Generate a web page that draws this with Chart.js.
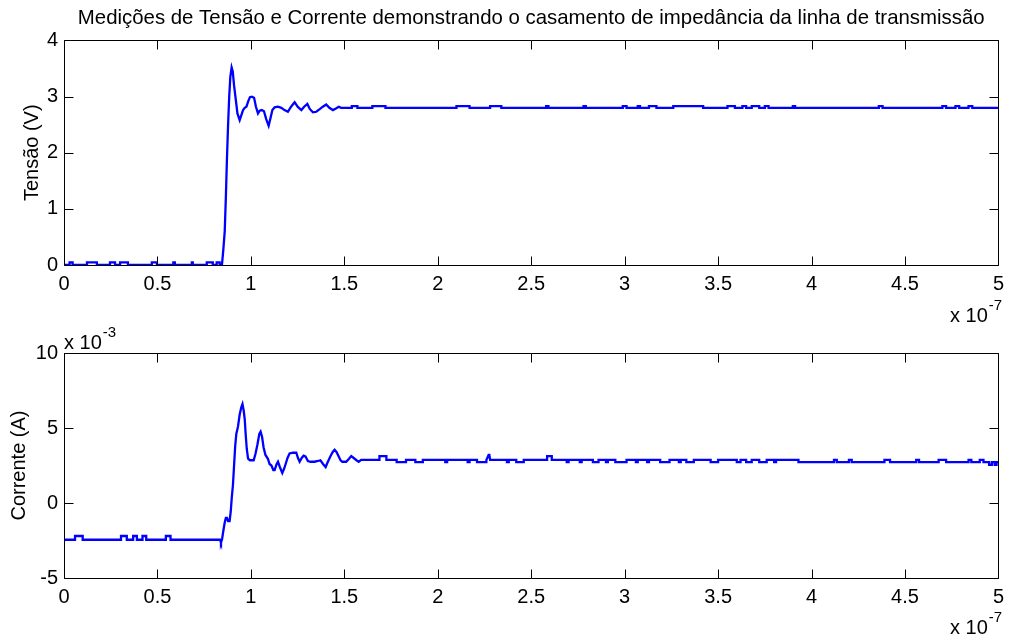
<!DOCTYPE html>
<html>
<head>
<meta charset="utf-8">
<script src="https://cdn.jsdelivr.net/npm/chart.js@4.4.1/dist/chart.umd.min.js"></script>
<style>
  html, body { margin: 0; padding: 0; background: #ffffff; }
  #fig { position: relative; width: 1011px; height: 639px; background: #ffffff; }
  #fig canvas { position: absolute; left: 0; }
  #cTop { top: 0; }
  #cBot { top: 320px; }
</style>
</head>
<body>
<div id="fig">
  <canvas id="cTop" width="1011" height="332"></canvas>
  <canvas id="cBot" width="1011" height="319"></canvas>
</div>
<script>
// Time axis in units of 1e-7 s, voltage in V
const tVolt = [
  0, 0.030, 0.030, 0.046, 0.046, 0.123, 0.123, 0.176, 0.176, 0.246, 0.246, 0.273, 0.273,
  0.300, 0.300, 0.342, 0.342, 0.470, 0.470, 0.497, 0.497, 0.585, 0.585, 0.593, 0.593,
  0.684, 0.684, 0.689, 0.689, 0.764, 0.764, 0.796, 0.796, 0.817, 0.817, 0.833, 0.833, 0.845,
  0.852, 0.860, 0.866, 0.872, 0.878, 0.884, 0.890, 0.897, 0.903, 0.910, 0.919, 0.928, 0.940,
  0.950, 0.958, 0.967, 0.976, 0.986, 0.995, 1.005, 1.017, 1.027, 1.038, 1.047, 1.058, 1.070,
  1.082, 1.095, 1.105, 1.115, 1.127, 1.145, 1.163, 1.180, 1.198, 1.215, 1.234, 1.250, 1.270,
  1.285, 1.302, 1.315, 1.332, 1.350, 1.370, 1.385, 1.403, 1.420, 1.439, 1.455, 1.470, 1.483,
  1.500, 1.540, 1.540, 1.570, 1.570, 1.650, 1.650, 1.720, 1.720, 2.100, 2.100, 2.170, 2.170,
  2.280, 2.280, 2.340, 2.340, 2.580, 2.580, 2.592, 2.592, 2.780, 2.780, 2.792, 2.792,
  2.990, 2.990, 3.010, 3.010, 3.070, 3.070, 3.082, 3.082, 3.130, 3.130, 3.170, 3.170,
  3.260, 3.260, 3.420, 3.420, 3.550, 3.550, 3.590, 3.590, 3.630, 3.630, 3.650, 3.650,
  3.680, 3.680, 3.720, 3.720, 3.750, 3.750, 3.770, 3.770, 3.900, 3.900, 3.912, 3.912,
  4.360, 4.360, 4.380, 4.380, 4.700, 4.700, 4.720, 4.720, 4.770, 4.770, 4.790, 4.790,
  4.840, 4.840, 4.860, 4.860, 5.000
];
const vVolt = [
  0, 0, 0.045, 0.045, 0, 0, 0.045, 0.045, 0, 0, 0.045, 0.045, 0,
  0, 0.045, 0.045, 0, 0, 0.045, 0.045, 0, 0, 0.045, 0.045, 0,
  0, 0.045, 0.045, 0, 0, 0.045, 0.045, 0, 0, 0.045, 0.045, 0, 0,
  0.25, 0.60, 1.20, 1.90, 2.50, 3.00, 3.35, 3.52, 3.45, 3.20, 2.95, 2.70, 2.58,
  2.68, 2.76, 2.80, 2.82, 2.92, 2.99, 3.00, 2.98, 2.82, 2.70, 2.75, 2.76, 2.74,
  2.60, 2.48, 2.62, 2.76, 2.81, 2.82, 2.80, 2.76, 2.73, 2.82, 2.90, 2.82, 2.76,
  2.82, 2.87, 2.78, 2.72, 2.73, 2.78, 2.82, 2.86, 2.80, 2.76, 2.79, 2.82, 2.80,
  2.80, 2.80, 2.83, 2.83, 2.80, 2.80, 2.83, 2.83, 2.80, 2.80, 2.83, 2.83, 2.80,
  2.80, 2.83, 2.83, 2.80, 2.80, 2.83, 2.83, 2.80, 2.80, 2.83, 2.83, 2.80,
  2.80, 2.83, 2.83, 2.80, 2.80, 2.83, 2.83, 2.80, 2.80, 2.83, 2.83, 2.80,
  2.80, 2.83, 2.83, 2.80, 2.80, 2.83, 2.83, 2.80, 2.80, 2.83, 2.83, 2.80,
  2.80, 2.83, 2.83, 2.80, 2.80, 2.83, 2.83, 2.80, 2.80, 2.83, 2.83, 2.80,
  2.80, 2.83, 2.83, 2.80, 2.80, 2.83, 2.83, 2.80, 2.80, 2.83, 2.83, 2.80,
  2.80, 2.83, 2.83, 2.80, 2.80
];

// Time axis in units of 1e-7 s, current in units of 1e-3 A
const tCurr = [
  0, 0.059, 0.059, 0.100, 0.100, 0.305, 0.305, 0.336, 0.336, 0.370, 0.370, 0.390, 0.390,
  0.420, 0.420, 0.440, 0.440, 0.545, 0.545, 0.570, 0.570, 0.835, 0.840, 0.846, 0.852,
  0.860, 0.866, 0.872, 0.878, 0.886, 0.892, 0.898, 0.904, 0.910, 0.916, 0.922, 0.931,
  0.940, 0.949, 0.955, 0.961, 0.967, 0.972, 0.978, 0.985, 0.995, 1.015, 1.025, 1.035,
  1.045, 1.052, 1.060, 1.068, 1.078, 1.091, 1.100, 1.110, 1.120, 1.127, 1.138, 1.145,
  1.155, 1.168, 1.178, 1.186, 1.196, 1.207, 1.225, 1.243, 1.252, 1.261, 1.272, 1.282,
  1.292, 1.305, 1.320, 1.340, 1.359, 1.372, 1.386, 1.400, 1.412, 1.425, 1.438, 1.448,
  1.458, 1.468, 1.480, 1.489, 1.510, 1.525, 1.537, 1.550, 1.565, 1.577, 1.590,
  1.688, 1.688, 1.725, 1.725, 1.780, 1.780, 1.830, 1.830, 1.880, 1.880, 1.920, 1.920,
  2.040, 2.040, 2.050, 2.050, 2.160, 2.160, 2.170, 2.170, 2.210, 2.210, 2.260, 2.260,
  2.272, 2.276, 2.280, 2.370, 2.370, 2.380, 2.380, 2.420, 2.420, 2.460, 2.460,
  2.585, 2.585, 2.610, 2.610, 2.690, 2.690, 2.700, 2.700, 2.760, 2.760, 2.770, 2.770,
  2.830, 2.830, 2.860, 2.860, 2.900, 2.900, 2.910, 2.910, 2.950, 2.950, 3.010, 3.010,
  3.060, 3.060, 3.070, 3.070, 3.120, 3.120, 3.130, 3.130, 3.190, 3.190, 3.240, 3.240,
  3.290, 3.290, 3.300, 3.300, 3.330, 3.330, 3.370, 3.370, 3.460, 3.460, 3.500, 3.500,
  3.600, 3.600, 3.620, 3.620, 3.650, 3.650, 3.680, 3.680, 3.720, 3.720, 3.760, 3.760,
  3.800, 3.800, 3.810, 3.810, 3.930, 3.930, 4.120, 4.120, 4.135, 4.135, 4.200, 4.200,
  4.215, 4.215, 4.390, 4.390, 4.420, 4.420, 4.560, 4.560, 4.575, 4.575, 4.680, 4.680,
  4.720, 4.720, 4.840, 4.840, 4.855, 4.855, 4.900, 4.900, 4.920, 4.920, 4.950, 4.950,
  4.965, 4.965, 4.980, 4.980, 4.990, 4.990, 5.000
];
const iCurr = [
  -2.45, -2.45, -2.2, -2.2, -2.45, -2.45, -2.2, -2.2, -2.45, -2.45, -2.2, -2.2, -2.45,
  -2.45, -2.2, -2.2, -2.45, -2.45, -2.2, -2.2, -2.45, -2.45, -2.65, -2.40, -1.90,
  -1.30, -1.00, -1.00, -1.20, -1.20, -0.60, 0.40, 1.20, 2.50, 3.80, 4.60, 5.10,
  5.90, 6.40, 6.60, 6.20, 5.60, 4.60, 3.60, 2.95, 2.85, 2.85, 3.30, 3.90,
  4.60, 4.75, 4.40, 3.70, 3.20, 2.95, 2.60, 2.50, 2.20, 2.20, 2.60, 2.75,
  2.40, 2.00, 2.30, 2.60, 3.00, 3.30, 3.35, 3.35, 3.00, 2.75, 3.00, 3.15,
  3.10, 2.80, 2.75, 2.75, 2.80, 2.85, 2.60, 2.40, 2.75, 3.10, 3.40, 3.55,
  3.40, 3.15, 2.85, 2.75, 2.75, 2.95, 3.13, 3.00, 2.85, 2.75, 2.87,
  2.87, 3.13, 3.13, 2.87, 2.87, 2.73, 2.73, 2.87, 2.87, 2.73, 2.73, 2.87,
  2.87, 2.73, 2.73, 2.87, 2.87, 2.73, 2.73, 2.87, 2.87, 2.73, 2.73, 2.87,
  3.20, 3.20, 2.87, 2.87, 2.73, 2.73, 2.87, 2.87, 2.73, 2.73, 2.87,
  2.87, 3.13, 3.13, 2.87, 2.87, 2.73, 2.73, 2.87, 2.87, 2.73, 2.73, 2.87,
  2.87, 2.73, 2.73, 2.87, 2.87, 2.73, 2.73, 2.87, 2.87, 2.73, 2.73, 2.87,
  2.87, 2.73, 2.73, 2.87, 2.87, 2.73, 2.73, 2.87, 2.87, 2.73, 2.73, 2.87,
  2.87, 2.73, 2.73, 2.87, 2.87, 2.73, 2.73, 2.87, 2.87, 2.73, 2.73, 2.87,
  2.87, 2.73, 2.73, 2.87, 2.87, 2.73, 2.73, 2.87, 2.87, 2.73, 2.73, 2.87,
  2.87, 2.73, 2.73, 2.87, 2.87, 2.73, 2.73, 2.87, 2.87, 2.73, 2.73, 2.87,
  2.87, 2.73, 2.73, 2.87, 2.87, 2.73, 2.73, 2.87, 2.87, 2.73, 2.73, 2.87,
  2.87, 2.73, 2.73, 2.87, 2.87, 2.73, 2.73, 2.87, 2.87, 2.73, 2.73, 2.55,
  2.55, 2.73, 2.73, 2.55, 2.55, 2.73, 2.73
];

const xTickLabels = ['0', '0.5', '1', '1.5', '2', '2.5', '3', '3.5', '4', '4.5', '5'];
const voltTickLabels = ['0', '1', '2', '3', '4'];
const currTickLabels = ['-5', '0', '5', '10'];

const FONT = 'Liberation Sans, Arial, Helvetica, sans-serif';

const pairs = (xs, ys) => xs.map((x, k) => ({ x: x, y: ys[k] }));

// Boxed axes with inward ticks on all four sides, plus the exponent captions
const axesFrame = {
  id: 'axesFrame',
  afterDatasetsDraw(chart, args, opts) {
    const { ctx, chartArea: a, scales } = chart;
    const L = Math.round(a.left) + 0.5, R = Math.round(a.right) + 0.5;
    const T = Math.round(a.top) + 0.5, B = Math.round(a.bottom) + 0.5;
    const tl = 9;
    ctx.save();
    ctx.strokeStyle = '#000000';
    ctx.lineWidth = 1;
    ctx.beginPath();
    ctx.rect(L, T, R - L, B - T);
    scales.x.ticks.forEach(t => {
      const px = Math.round(scales.x.getPixelForValue(t.value)) + 0.5;
      ctx.moveTo(px, B); ctx.lineTo(px, B - tl);
      ctx.moveTo(px, T); ctx.lineTo(px, T + tl);
    });
    scales.y.ticks.forEach(t => {
      const py = Math.round(scales.y.getPixelForValue(t.value)) + 0.5;
      ctx.moveTo(L, py); ctx.lineTo(L + tl, py);
      ctx.moveTo(R, py); ctx.lineTo(R - tl, py);
    });
    ctx.stroke();

    ctx.fillStyle = '#000000';
    ctx.textBaseline = 'alphabetic';
    ctx.textAlign = 'left';
    (opts.captions || []).forEach(c => {
      ctx.font = c.size + 'px ' + FONT;
      ctx.fillText(c.base, c.x, c.y);
      const w = ctx.measureText(c.base).width;
      ctx.font = c.supSize + 'px ' + FONT;
      ctx.fillText(c.sup, c.x + w + 1, c.y - 12);
    });
    ctx.restore();
  }
};

function makeAxes(canvasId, xs, ys, yMin, yMax, yStep, yLabels, yTitle, yTitlePad, padTop, xHeight, captions, title) {
  return new Chart(document.getElementById(canvasId), {
    type: 'line',
    data: {
      datasets: [{
        data: pairs(xs, ys),
        borderColor: '#0000ff',
        borderWidth: 2.3,
        pointRadius: 0,
        tension: 0,
        fill: false
      }]
    },
    options: {
      responsive: false,
      animation: false,
      events: [],
      layout: { padding: { top: padTop, right: 11, left: 0, bottom: 0 } },
      plugins: {
        legend: { display: false },
        tooltip: { enabled: false },
        title: title ? {
          display: true,
          text: title,
          fullSize: false,
          color: '#000000',
          font: { family: FONT, size: 20.4, weight: 'normal' },
          padding: { top: 6, bottom: 10 }
        } : { display: false },
        axesFrame: { captions: captions }
      },
      scales: {
        x: {
          type: 'linear',
          min: 0, max: 5,
          afterFit(s) { s.height = xHeight; },
          grid: { display: false, drawTicks: false },
          border: { display: false },
          ticks: {
            stepSize: 0.5,
            color: '#000000',
            padding: 7,
            maxRotation: 0,
            autoSkip: false,
            font: { family: FONT, size: 20 },
            callback: (v, i) => xTickLabels[i]
          }
        },
        y: {
          type: 'linear',
          min: yMin, max: yMax,
          afterFit(s) { s.width = 64; },
          grid: { display: false, drawTicks: false },
          border: { display: false },
          ticks: {
            stepSize: yStep,
            color: '#000000',
            padding: 6,
            autoSkip: false,
            font: { family: FONT, size: 20 },
            callback: (v, i) => yLabels[i]
          },
          title: {
            display: true,
            text: yTitle,
            color: '#000000',
            font: { family: FONT, size: 20 },
            padding: { top: yTitlePad, bottom: 0 }
          }
        }
      }
    },
    plugins: [axesFrame]
  });
}

makeAxes('cTop', tVolt, vVolt, 0, 4, 1, voltTickLabels, 'Tensão (V)', 20, 0, 67,
  [{ base: 'x 10', sup: '-7', x: 950, y: 322, size: 20, supSize: 15 }],
  'Medições de Tensão e Corrente demonstrando o casamento de impedância da linha de transmissão');

makeAxes('cBot', tCurr, iCurr, -5, 10, 5, currTickLabels, 'Corrente (A)', 7, 33, 61,
  [{ base: 'x 10', sup: '-7', x: 950, y: 314, size: 20, supSize: 15 },
   { base: 'x 10', sup: '-3', x: 64, y: 29, size: 20, supSize: 15 }],
  null);
</script>
</body>
</html>
